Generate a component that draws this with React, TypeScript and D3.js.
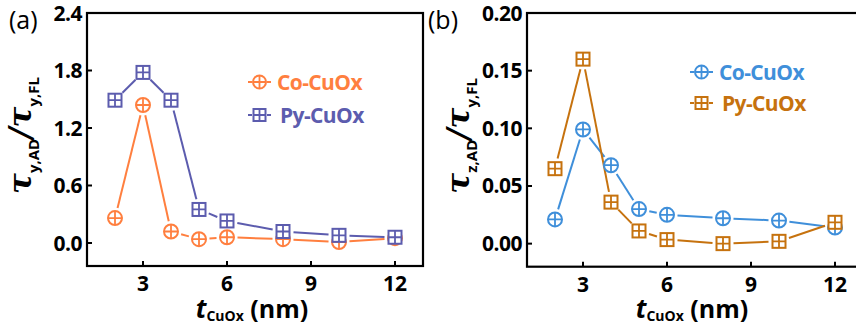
import { useEffect, useRef } from "react";
import * as d3 from "d3";

// thickness values (nm)
const tCuOx = [2, 3, 4, 5, 6, 8, 10, 12];

// panel (a): tau_y,AD / tau_y,FL
const coRatioA = [0.26, 1.44, 0.12, 0.04, 0.06, 0.04, 0.01, 0.05];
const pyRatioA = [1.49, 1.78, 1.49, 0.35, 0.23, 0.12, 0.08, 0.06];

// panel (b): tau_z,AD / tau_y,FL
const coRatioB = [0.021, 0.099, 0.068, 0.03, 0.025, 0.022, 0.02, 0.014];
const pyRatioB = [0.065, 0.16, 0.036, 0.011, 0.0035, 0.0, 0.002, 0.0185];

const xTicks = [3, 6, 9, 12];
const yTicksA = [0, 0.6, 1.2, 1.8, 2.4];
const yTicksB = [0, 0.05, 0.1, 0.15, 0.2];

const FONT = "'Open Sans', Lato, sans-serif";

const PANELS = [
  {
    tag: "(a)", tagX: 9,
    sub: "y,AD",
    x0: 87, x1: 423, y0: 266, y1: 13,
    yDomain: [-0.24, 2.4], yTicks: yTicksA, fmt: d3.format(".1f"),
    series: [
      { name: "Co-CuOx", values: coRatioA, color: "#FF7F3F", marker: "circle" },
      { name: "Py-CuOx", values: pyRatioA, color: "#5C5CAE", marker: "square" },
    ],
    legend: { x: 248, y: 82, dy: 33 },
    yTitleX: 31,
    xTitleX: 252,
  },
  {
    tag: "(b)", tagX: 428,
    sub: "z,AD",
    x0: 527, x1: 863, y0: 266.7, y1: 13,
    yDomain: [-0.02, 0.2], yTicks: yTicksB, fmt: d3.format(".2f"),
    series: [
      { name: "Co-CuOx", values: coRatioB, color: "#3F8FDA", marker: "circle" },
      { name: "Py-CuOx", values: pyRatioB, color: "#C6720E", marker: "square" },
    ],
    legend: { x: 690, y: 72, dy: 31 },
    yTitleX: 469,
    xTitleX: 692,
  },
];

const drawMarker = (g, kind, x, y, color, size = 7) => {
  if (kind === "circle") {
    g.append("circle").attr("cx", x).attr("cy", y).attr("r", size)
      .attr("fill", "white").attr("stroke", color).attr("stroke-width", 2);
    g.append("path").attr("d", `M${x - size},${y}H${x + size}M${x},${y - size}V${y + size}`)
      .attr("stroke", color).attr("stroke-width", 1.8);
  } else {
    const s = size - 0.5;
    g.append("rect").attr("x", x - s).attr("y", y - s).attr("width", 2 * s).attr("height", 2 * s)
      .attr("fill", "white").attr("stroke", color).attr("stroke-width", 2);
    g.append("path").attr("d", `M${x - s},${y}H${x + s}M${x},${y - s}V${y + s}`)
      .attr("stroke", color).attr("stroke-width", 1.8);
  }
};

const App = () => {
  const svgRef = useRef(null);

  useEffect(() => {
    const svg = d3.select(svgRef.current);
    svg.selectAll("*").remove();

    PANELS.forEach((p) => {
      const x = d3.scaleLinear().domain([1, 13]).range([p.x0, p.x1]);
      const y = d3.scaleLinear().domain(p.yDomain).range([p.y0, p.y1]);
      const g = svg.append("g");

      // frame
      g.append("rect").attr("x", p.x0).attr("y", p.y1)
        .attr("width", p.x1 - p.x0).attr("height", p.y0 - p.y1)
        .attr("fill", "none").attr("stroke", "black").attr("stroke-width", 2.2);

      // x ticks
      xTicks.forEach((t) => {
        g.append("line").attr("x1", x(t)).attr("x2", x(t))
          .attr("y1", p.y0).attr("y2", p.y0 - 5).attr("stroke", "black").attr("stroke-width", 2);
        g.append("text").attr("x", x(t)).attr("y", p.y0 + 25)
          .attr("text-anchor", "middle").attr("font-family", FONT)
          .attr("font-weight", "bold").attr("font-size", 21).text(t);
      });

      // y ticks
      p.yTicks.forEach((t) => {
        g.append("line").attr("x1", p.x0).attr("x2", p.x0 + 5)
          .attr("y1", y(t)).attr("y2", y(t)).attr("stroke", "black").attr("stroke-width", 2);
        g.append("text").attr("x", p.x0 - 5).attr("y", y(t) + 7.5)
          .attr("text-anchor", "end").attr("font-family", FONT)
          .attr("font-weight", "bold").attr("font-size", 21).attr("letter-spacing", -0.5).text(p.fmt(t));
      });

      // panel tag
      g.append("text").attr("x", p.tagX).attr("y", 29)
        .attr("font-family", FONT).attr("font-size", 25).text(p.tag);

      // series: segments with gaps round the markers
      p.series.forEach((s) => {
        const pts = tCuOx.map((t, i) => [x(t), y(s.values[i])]);
        for (let i = 0; i < pts.length - 1; i++) {
          const [ax, ay] = pts[i];
          const [bx, by] = pts[i + 1];
          const len = Math.hypot(bx - ax, by - ay);
          const gap = 10.5;
          if (len <= 2 * gap + 1) continue;
          const ux = (bx - ax) / len, uy = (by - ay) / len;
          g.append("line")
            .attr("x1", ax + ux * gap).attr("y1", ay + uy * gap)
            .attr("x2", bx - ux * gap).attr("y2", by - uy * gap)
            .attr("stroke", s.color).attr("stroke-width", 2);
        }
      });
      p.series.forEach((s) => {
        tCuOx.forEach((t, i) => drawMarker(g, s.marker, x(t), y(s.values[i]), s.color));
      });

      // legend
      p.series.forEach((s, i) => {
        const ly = p.legend.y + i * p.legend.dy;
        const lx = p.legend.x;
        g.append("line").attr("x1", lx).attr("x2", lx + 4).attr("y1", ly).attr("y2", ly)
          .attr("stroke", s.color).attr("stroke-width", 2);
        g.append("line").attr("x1", lx + 19).attr("x2", lx + 23).attr("y1", ly).attr("y2", ly)
          .attr("stroke", s.color).attr("stroke-width", 2);
        drawMarker(g, s.marker, lx + 11.5, ly, s.color, 6.5);
        g.append("text").attr("x", lx + 29 + (i ? 3 : 0)).attr("y", ly + 7.5)
          .attr("font-family", FONT).attr("font-weight", "bold").attr("font-size", 21)
          .attr("letter-spacing", -0.6)
          .attr("fill", s.color).text(s.name);
      });

      // y title
      const yt = g.append("text")
        .attr("transform", `translate(${p.yTitleX},${(p.y0 + p.y1) / 2 - 4}) rotate(-90)`)
        .attr("text-anchor", "middle").attr("font-family", FONT).attr("font-weight", "bold");
      yt.append("tspan").attr("font-size", 31).attr("font-style", "italic").attr("font-family", "'DejaVu Serif', serif").text("τ");
      yt.append("tspan").attr("font-size", 15).attr("dy", 8).text(p.sub);
      yt.append("tspan").attr("font-size", 31).attr("dy", -8).attr("font-style", "italic").attr("font-family", "'DejaVu Serif', serif").text("/τ");
      yt.append("tspan").attr("font-size", 15).attr("dy", 8).text("y,FL");

      // x title
      const xt = g.append("text").attr("x", p.xTitleX).attr("y", 318)
        .attr("text-anchor", "middle").attr("font-family", FONT).attr("font-weight", "bold");
      xt.append("tspan").attr("font-size", 26).attr("font-style", "italic").text("t");
      xt.append("tspan").attr("font-size", 14).attr("dy", 3).text("CuOx");
      xt.append("tspan").attr("font-size", 25).attr("dy", -3).text(" (nm)");
    });
  }, []);

  return (
    <svg
      ref={svgRef}
      width={856}
      height={326}
      style={{ position: "absolute", left: 0, top: 0, background: "white" }}
    ></svg>
  );
};

export default App;
